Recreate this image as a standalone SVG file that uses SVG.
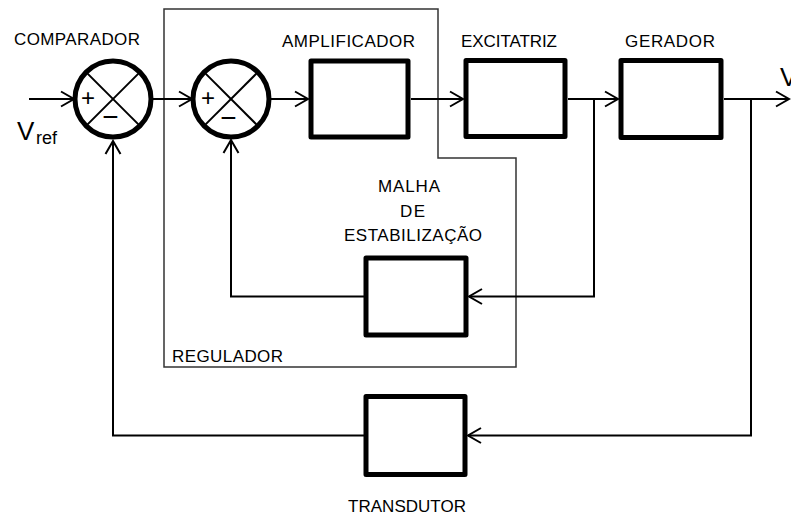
<svg xmlns="http://www.w3.org/2000/svg" width="791" height="516" viewBox="0 0 791 516">
<style>
.lbl{font-family:"Liberation Sans",Arial,sans-serif;font-size:17px;fill:#000}
.blk{fill:#fff;stroke:#000;stroke-width:5;stroke-linejoin:round}
.sum{fill:#fff;stroke:#000;stroke-width:5}
.x{stroke:#000;stroke-width:2}
.ln{fill:none;stroke:#000;stroke-width:2}
.sg{font-family:"Liberation Sans",Arial,sans-serif;fill:#000;text-anchor:middle}
</style>
<defs>
<marker id="ah" markerUnits="userSpaceOnUse" markerWidth="16" markerHeight="18" refX="14" refY="8" orient="auto" overflow="visible">
<path d="M1,0.5 L14,8 L1,15.5" fill="none" stroke="#000" stroke-width="2"/>
</marker>
</defs>
<rect width="791" height="516" fill="#fff"/>
<g id="regulador">
<path d="M164,9 H438 V158 H516 V367 H164 Z" fill="none" stroke="#333" stroke-width="1.5"/>
<text class="lbl" x="172" y="361.5" textLength="111" lengthAdjust="spacing">REGULADOR</text>
</g>
<g id="connectors">
<line class="ln" x1="29" y1="99" x2="74" y2="99" marker-end="url(#ah)"/>
<line class="ln" x1="153" y1="99" x2="192" y2="99" marker-end="url(#ah)"/>
<line class="ln" x1="271" y1="99" x2="308" y2="99" marker-end="url(#ah)"/>
<line class="ln" x1="411" y1="99" x2="463" y2="99" marker-end="url(#ah)"/>
<line class="ln" x1="568" y1="99" x2="618" y2="99" marker-end="url(#ah)"/>
<line class="ln" x1="724" y1="99" x2="789" y2="99" marker-end="url(#ah)"/>
<polyline class="ln" points="594,99 594,296.5 469,296.5" marker-end="url(#ah)"/>
<polyline class="ln" points="364,296.5 231,296.5 231,140" marker-end="url(#ah)"/>
<polyline class="ln" points="751,99 751,435.5 468,435.5" marker-end="url(#ah)"/>
<polyline class="ln" points="364,435.5 113,435.5 113,141" marker-end="url(#ah)"/>
</g>
<g id="comparador">
<circle class="sum" cx="113" cy="99" r="38"/>
<line class="x" x1="86.1" y1="72.1" x2="139.9" y2="125.9"/>
<line class="x" x1="139.9" y1="72.1" x2="86.1" y2="125.9"/>
<text class="sg" x="88" y="105.5" font-size="24">+</text>
<text class="sg" x="110.5" y="126" font-size="28">−</text>
<text class="lbl" x="14" y="45" textLength="126" lengthAdjust="spacing">COMPARADOR</text>
</g>
<g id="vref">
<text x="17" y="140" font-family="Liberation Sans, Arial, sans-serif" font-size="26">V</text>
<text x="36" y="143.5" font-family="Liberation Sans, Arial, sans-serif" font-size="18">ref</text>
</g>
<g id="somador">
<circle class="sum" cx="231" cy="99" r="38"/>
<line class="x" x1="204.1" y1="72.1" x2="257.9" y2="125.9"/>
<line class="x" x1="257.9" y1="72.1" x2="204.1" y2="125.9"/>
<text class="sg" x="208" y="105.5" font-size="24">+</text>
<text class="sg" x="228.5" y="126.5" font-size="28">−</text>
</g>
<g id="amplificador">
<rect class="blk" x="311" y="61" width="97" height="76"/>
<text class="lbl" x="282" y="46.5" textLength="133" lengthAdjust="spacing">AMPLIFICADOR</text>
</g>
<g id="excitatriz">
<rect class="blk" x="466" y="60.5" width="99" height="76"/>
<text class="lbl" x="461" y="46.5" textLength="96" lengthAdjust="spacing">EXCITATRIZ</text>
</g>
<g id="gerador">
<rect class="blk" x="621" y="60.5" width="100" height="77"/>
<text class="lbl" x="625" y="46.5" textLength="90" lengthAdjust="spacing">GERADOR</text>
</g>
<g id="saida">
<text x="780" y="86" font-family="Liberation Sans, Arial, sans-serif" font-size="26">V</text>
</g>
<g id="malha">
<rect class="blk" x="366" y="258" width="100" height="77"/>
<text class="lbl" x="378" y="192" textLength="62" lengthAdjust="spacing">MALHA</text>
<text class="lbl" x="400" y="216.5" textLength="25" lengthAdjust="spacing">DE</text>
<text class="lbl" x="344" y="241" textLength="138" lengthAdjust="spacing">ESTABILIZAÇÃO</text>
</g>
<g id="transdutor">
<rect class="blk" x="366" y="396.5" width="99" height="78"/>
<text class="lbl" x="348" y="511.5" textLength="118" lengthAdjust="spacing">TRANSDUTOR</text>
</g>
</svg>
